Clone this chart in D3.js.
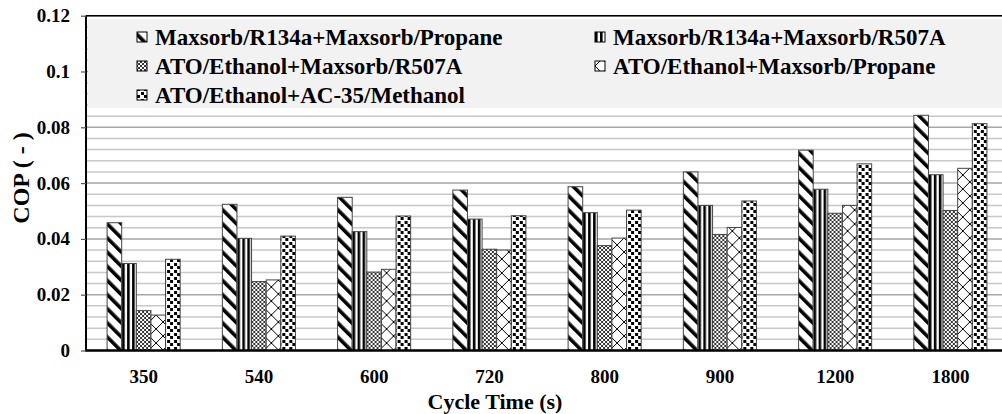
<!DOCTYPE html>
<html>
<head>
<meta charset="utf-8">
<script src="https://cdn.jsdelivr.net/npm/d3@7"></script>
<style>
  html, body { margin: 0; padding: 0; background: #fff; }
  svg { display: block; }
  text { font-family: "Liberation Serif", "Times New Roman", serif; font-weight: bold; fill: #000; }
</style>
</head>
<body>
<svg id="chart" width="1002" height="414"></svg>
<script>
const categories = ["350", "540", "600", "720", "800", "900", "1200", "1800"];
const seriesNames = [
  "Maxsorb/R134a+Maxsorb/Propane",
  "Maxsorb/R134a+Maxsorb/R507A",
  "ATO/Ethanol+Maxsorb/R507A",
  "ATO/Ethanol+Maxsorb/Propane",
  "ATO/Ethanol+AC-35/Methanol"
];
const s1 = [0.0458, 0.0524, 0.0549, 0.0575, 0.0587, 0.0640, 0.0718, 0.0843];
const s2 = [0.0312, 0.0402, 0.0426, 0.0471, 0.0494, 0.0520, 0.0578, 0.0630];
const s3 = [0.0143, 0.0247, 0.0281, 0.0363, 0.0376, 0.0416, 0.0492, 0.0502];
const s4 = [0.0127, 0.0253, 0.0291, 0.0360, 0.0403, 0.0441, 0.0520, 0.0653];
const s5 = [0.0327, 0.0410, 0.0482, 0.0483, 0.0503, 0.0536, 0.0669, 0.0813];
const yTickValues = [0, 0.02, 0.04, 0.06, 0.08, 0.1, 0.12];
const yTickLabels = ["0", "0.02", "0.04", "0.06", "0.08", "0.1", "0.12"];
const yMinorStep = 0.004;
const xTitle = "Cycle Time (s)";
const yTitle = "COP ( - )";

const series = [s1, s2, s3, s4, s5];
const patternIds = ["pDiag", "pVert", "pFine", "pLattice", "pConfetti"];

const svg = d3.select("#chart");
const L = 86, R = 1008, T = 15.7, B = 350.5;

const x0 = d3.scaleBand().domain(categories).range([L, R]).paddingInner(0.366).paddingOuter(0.183);
const x1 = d3.scaleBand().domain(d3.range(series.length)).range([0, x0.bandwidth()]).padding(0);
const y = d3.scaleLinear().domain([0, 0.12]).range([B, T]);

// patterns
const defs = svg.append("defs");
{
  const p = defs.append("pattern").attr("id", "pDiag").attr("patternUnits", "userSpaceOnUse")
    .attr("width", 10).attr("height", 10).attr("patternTransform", "rotate(-45)");
  p.append("rect").attr("width", 10).attr("height", 10).attr("fill", "#fff");
  p.append("rect").attr("x", 0).attr("width", 3.6).attr("height", 10).attr("fill", "#000");
}
{
  const p = defs.append("pattern").attr("id", "pVert").attr("patternUnits", "userSpaceOnUse")
    .attr("width", 5).attr("height", 5);
  p.append("rect").attr("width", 5).attr("height", 5).attr("fill", "#fff");
  p.append("rect").attr("x", 0).attr("width", 2.6).attr("height", 5).attr("fill", "#000");
}
{
  const p = defs.append("pattern").attr("id", "pFine").attr("patternUnits", "userSpaceOnUse")
    .attr("width", 4).attr("height", 4);
  p.append("rect").attr("width", 4).attr("height", 4).attr("fill", "#fff");
  p.append("path").attr("d", "M0,0L4,4M4,0L0,4").attr("stroke", "#000").attr("stroke-width", 0.8);
}
{
  const p = defs.append("pattern").attr("id", "pLattice").attr("patternUnits", "userSpaceOnUse")
    .attr("width", 14).attr("height", 14);
  p.append("rect").attr("width", 14).attr("height", 14).attr("fill", "#fff");
  p.append("path").attr("d", "M0,0L14,14M14,0L0,14").attr("stroke", "#000").attr("stroke-width", 1);
}
{
  const p = defs.append("pattern").attr("id", "pConfetti").attr("patternUnits", "userSpaceOnUse")
    .attr("width", 7).attr("height", 7);
  p.append("rect").attr("width", 7).attr("height", 7).attr("fill", "#fff");
  p.append("rect").attr("x", 0).attr("y", 0).attr("width", 3).attr("height", 3).attr("fill", "#000").attr("shape-rendering", "crispEdges");
  p.append("rect").attr("x", 4).attr("y", 4).attr("width", 3).attr("height", 3).attr("fill", "#000").attr("shape-rendering", "crispEdges");
}

svg.append("rect").attr("width", 1002).attr("height", 414).attr("fill", "#fff");

// gridlines
const minorTicks = d3.range(0, 0.12 + 1e-9, yMinorStep);
svg.append("g").selectAll("line").data(minorTicks).join("line")
  .attr("x1", L).attr("x2", R)
  .attr("y1", d => y(d)).attr("y2", d => y(d))
  .attr("stroke", (d) => (Math.abs(d / 0.02 - Math.round(d / 0.02)) < 1e-6) ? "#a6a6a6" : "#c8c8c8")
  .attr("stroke-width", 1.5);

// legend background
svg.append("rect").attr("x", 88).attr("y", 19).attr("width", 1002 - 88).attr("height", 89).attr("fill", "#f2f2f2");

// bars
const groups = svg.append("g").selectAll("g").data(categories).join("g")
  .attr("transform", d => `translate(${x0(d)},0)`);
groups.selectAll("rect").data((d, i) => series.map((s, k) => ({ k, v: s[i] }))).join("rect")
  .attr("x", d => x1(d.k))
  .attr("width", x1.bandwidth())
  .attr("y", d => y(d.v))
  .attr("height", d => y(0) - y(d.v))
  .attr("fill", d => `url(#${patternIds[d.k]})`)
  .attr("stroke", "#444")
  .attr("stroke-width", 1);

// axes frame
svg.append("line").attr("x1", L).attr("x2", 1002).attr("y1", T).attr("y2", T).attr("stroke", "#000").attr("stroke-width", 1.5);
svg.append("line").attr("x1", L).attr("x2", L).attr("y1", T).attr("y2", B).attr("stroke", "#000").attr("stroke-width", 2);
svg.append("line").attr("x1", L - 1).attr("x2", 1002).attr("y1", B).attr("y2", B).attr("stroke", "#000").attr("stroke-width", 2.5);

// y axis ticks + labels
const yAxis = d3.axisLeft(y).tickValues(yTickValues).tickSize(5).tickPadding(11)
  .tickFormat((d, i) => yTickLabels[i]);
const gy = svg.append("g").attr("transform", `translate(${L},0)`).call(yAxis);
gy.select(".domain").remove();
gy.selectAll(".tick line").attr("stroke", "#555").attr("stroke-width", 1.2);
gy.selectAll(".tick text").style("font-family", '"Liberation Serif", serif').style("font-weight", "bold")
  .style("font-size", "19px").attr("fill", "#000");

// x axis labels
const xAxis = d3.axisBottom(x0).tickSize(0).tickPadding(19);
const gx = svg.append("g").attr("transform", `translate(0,${B})`).call(xAxis);
gx.select(".domain").remove();
gx.selectAll(".tick text").style("font-family", '"Liberation Serif", serif').style("font-weight", "bold")
  .style("font-size", "19px").attr("fill", "#000");

// axis titles
svg.append("text").attr("x", 495).attr("y", 409).attr("text-anchor", "middle")
  .style("font-size", "22px").text(xTitle);
svg.append("text").attr("transform", "translate(29,178) rotate(-90)").attr("text-anchor", "middle")
  .style("font-size", "24px").text(yTitle);

// legend
const legPos = [
  { x: 137, y: 37 }, { x: 595, y: 37 },
  { x: 137, y: 66 }, { x: 595, y: 66 },
  { x: 137, y: 95 }
];
const leg = svg.append("g").selectAll("g").data(seriesNames).join("g")
  .attr("transform", (d, i) => `translate(${legPos[i].x},${legPos[i].y})`);
leg.append("rect").attr("x", 0).attr("y", -5).attr("width", 10).attr("height", 10)
  .attr("fill", (d, i) => `url(#${patternIds[i]})`).attr("stroke", "#000").attr("stroke-width", 1);
leg.append("text").attr("x", 18).attr("y", 0).attr("dominant-baseline", "central")
  .style("font-size", "23px").text(d => d);
</script>
</body>
</html>
